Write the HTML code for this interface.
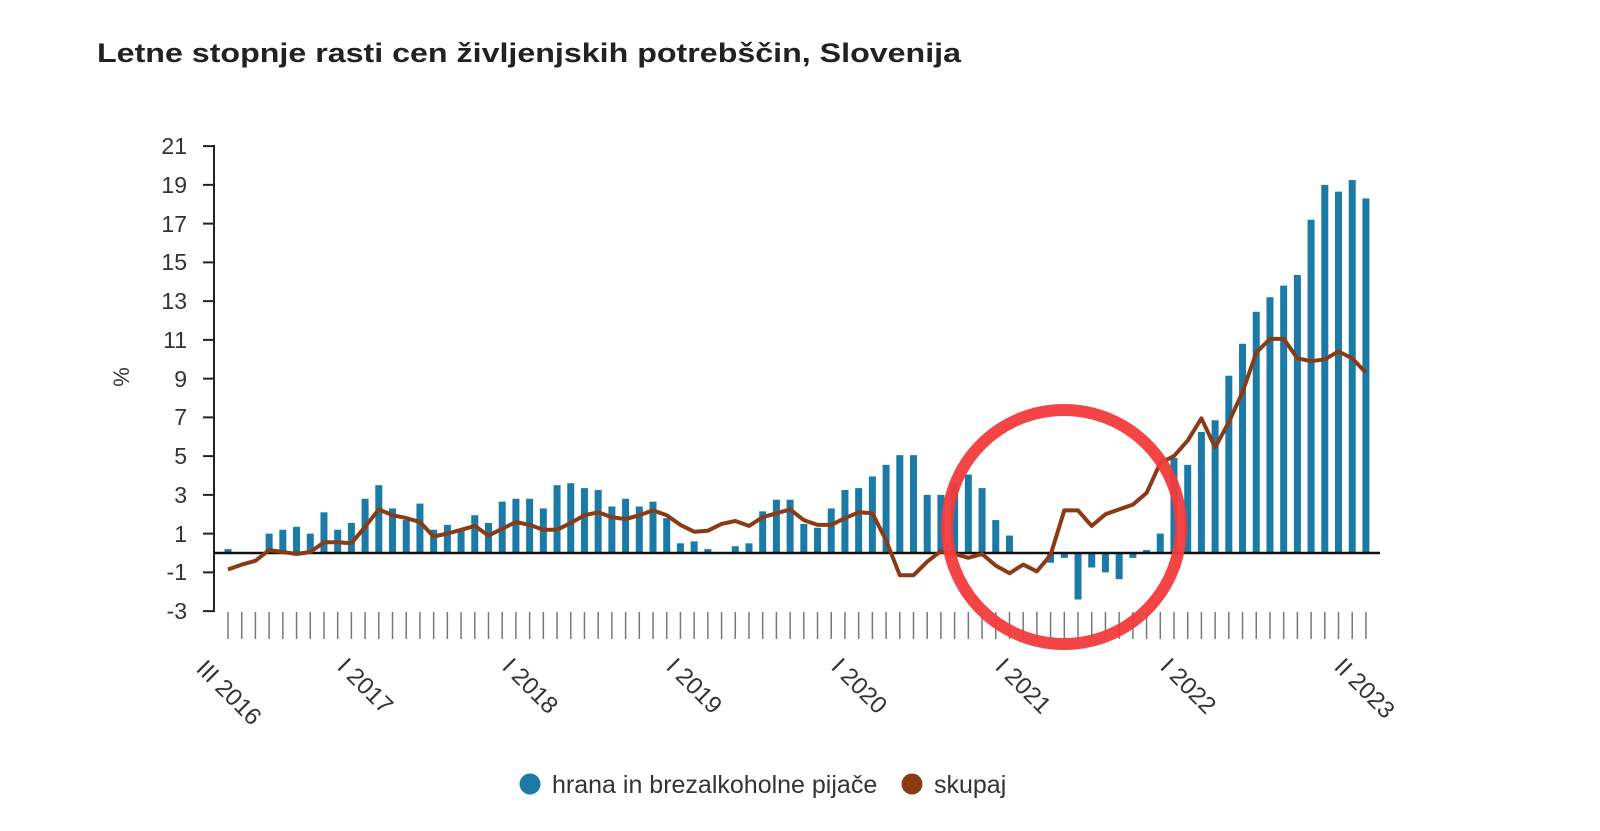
<!DOCTYPE html>
<html><head><meta charset="utf-8">
<style>
html,body{margin:0;padding:0;background:#fff;}
svg{display:block;}
text{font-family:"Liberation Sans",Arial,sans-serif;}
</style></head>
<body>
<svg id="c" width="1600" height="831" xmlns="http://www.w3.org/2000/svg">
<text x="97" y="62" font-size="27" font-weight="bold" fill="#222" textLength="864" lengthAdjust="spacingAndGlyphs">Letne stopnje rasti cen življenjskih potrebščin, Slovenija</text>
<g font-size="23" fill="#333" text-anchor="end">
<text x="187" y="154">21</text>
<text x="187" y="193">19</text>
<text x="187" y="232">17</text>
<text x="187" y="270">15</text>
<text x="187" y="309">13</text>
<text x="187" y="348">11</text>
<text x="187" y="387">9</text>
<text x="187" y="425">7</text>
<text x="187" y="464">5</text>
<text x="187" y="503">3</text>
<text x="187" y="542">1</text>
<text x="187" y="580">-1</text>
<text x="187" y="619">-3</text>
</g>
<text transform="translate(129,377) rotate(-90)" font-size="22" fill="#333" text-anchor="middle">%</text>
<g id="axis" stroke="#222" stroke-width="2" fill="none"></g>
<g id="ticks" stroke="#777" stroke-width="1.5"></g>
<g id="bars" fill="#1b7aa6"></g>
<line x1="214" y1="553" x2="1380" y2="553" stroke="#111" stroke-width="2.5"/>
<polyline id="line" fill="none" stroke="#8a3b16" stroke-width="4" stroke-linejoin="round"/>
<g font-size="24" fill="#333">
<text transform="translate(195,670) rotate(45)">III 2016</text>
<text transform="translate(336,668) rotate(45)">I 2017</text>
<text transform="translate(501,668) rotate(45)">I 2018</text>
<text transform="translate(665,668) rotate(45)">I 2019</text>
<text transform="translate(830,668) rotate(45)">I 2020</text>
<text transform="translate(994,668) rotate(45)">I 2021</text>
<text transform="translate(1159,668) rotate(45)">I 2022</text>
<text transform="translate(1333,668) rotate(45)">II 2023</text>
</g>
<circle cx="530" cy="784" r="10.5" fill="#1b7aa6"/>
<text x="552" y="793" font-size="25" fill="#333">hrana in brezalkoholne pijače</text>
<circle cx="912" cy="784" r="10.5" fill="#8a3b16"/>
<text x="934" y="793" font-size="25" fill="#333">skupaj</text>
<circle cx="1064" cy="527" r="117" fill="none" stroke="#f23b3b" stroke-width="12" opacity="0.95"/>
</svg>
<script>
var NS="http://www.w3.org/2000/svg";
function el(p,t,a){var e=document.createElementNS(NS,t);for(var k in a)e.setAttribute(k,a[k]);p.appendChild(e);return e;}
var Y=function(v){return 553-19.375*v;};
var X=function(i){return 228+13.71*i;};
var food=[0.2,0,0,1.0,1.2,1.35,1.0,2.1,1.2,1.55,2.8,3.5,2.3,1.7,2.55,1.2,1.45,1.25,1.95,1.55,2.65,2.8,2.8,2.3,3.5,3.6,3.35,3.25,2.4,2.8,2.4,2.65,1.8,0.5,0.6,0.2,0,0.35,0.5,2.15,2.75,2.75,1.5,1.3,2.3,3.25,3.35,3.95,4.55,5.05,5.05,3.0,3.0,3.6,4.05,3.35,1.7,0.9,0,0,-0.5,-0.25,-2.4,-0.75,-1.0,-1.35,-0.25,0.15,1.0,4.9,4.55,6.25,6.85,9.15,10.8,12.45,13.2,13.8,14.35,17.2,19.0,18.65,19.25,18.3];
var tot=[-0.85,-0.6,-0.4,0.15,0.05,-0.05,0.05,0.55,0.55,0.5,1.35,2.25,1.95,1.8,1.6,0.85,1.0,1.2,1.4,0.9,1.25,1.6,1.45,1.2,1.2,1.55,1.95,2.1,1.85,1.75,1.95,2.2,1.95,1.45,1.1,1.15,1.5,1.65,1.4,1.85,2.05,2.25,1.7,1.45,1.45,1.8,2.1,2.05,0.65,-1.15,-1.15,-0.45,0.1,-0.05,-0.25,-0.05,-0.65,-1.05,-0.6,-0.95,-0.1,2.2,2.2,1.4,2.0,2.25,2.5,3.1,4.65,5.0,5.8,6.95,5.45,6.75,8.3,10.35,11.05,11.05,10.05,9.9,10.0,10.4,10.05,9.3];
var ax=document.getElementById("axis");
el(ax,"line",{x1:214,y1:145,x2:214,y2:612});
for(var v=21;v>=-3;v-=2){el(ax,"line",{x1:203,y1:Y(v),x2:214,y2:Y(v)});}
var tk=document.getElementById("ticks"),b=document.getElementById("bars");
var pts=[];
for(var i=0;i<84;i++){
 var x=X(i);
 el(tk,"line",{x1:x,y1:612,x2:x,y2:639});
 var f=food[i];
 if(f!==0){var y0=Y(Math.max(f,0)),h=Math.abs(f)*19.375;el(b,"rect",{x:x-3.5,y:y0,width:7,height:h});}
 pts.push(x.toFixed(1)+","+Y(tot[i]).toFixed(1));
}
document.getElementById("line").setAttribute("points",pts.join(" "));
</script>
</body></html>
